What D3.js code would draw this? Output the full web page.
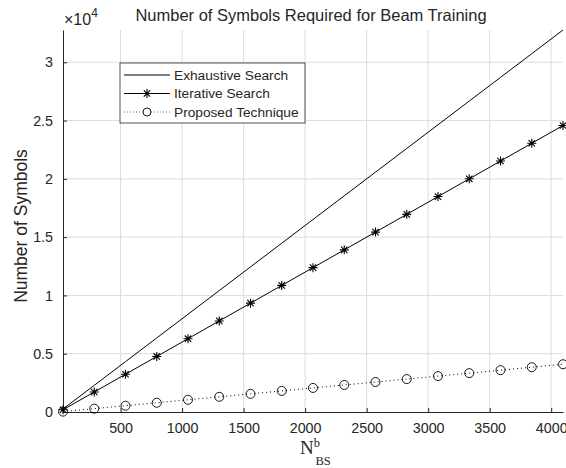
<!DOCTYPE html>
<html>
<head>
<meta charset="utf-8">
<script src="https://cdn.jsdelivr.net/npm/d3@7"></script>
<style>
  body { margin: 0; background: #fff; }
  svg text { font-family: "Liberation Sans", Arial, sans-serif; fill: #262626; }
</style>
</head>
<body>
<div id="chartHolder"></div>
<script>
// N_BS^b values (markers)
const nBS = [32, 286, 540, 794, 1048, 1302, 1556, 1810, 2064, 2318, 2572, 2826, 3080, 3334, 3588, 3842, 4096];
const exhaustive = [256, 2288, 4320, 6352, 8384, 10416, 12448, 14480, 16512, 18544, 20576, 22608, 24640, 26672, 28704, 30736, 32768];
const iterative = [192, 1716, 3240, 4764, 6288, 7812, 9336, 10860, 12384, 13908, 15432, 16956, 18480, 20004, 21528, 23052, 24576];
const proposed = [32, 286, 540, 794, 1048, 1302, 1556, 1810, 2064, 2318, 2572, 2826, 3080, 3334, 3588, 3842, 4096];
const xTicks = [500, 1000, 1500, 2000, 2500, 3000, 3500, 4000];
const yTicks = [0, 5000, 10000, 15000, 20000, 25000, 30000];
const legendLabels = ["Exhaustive Search", "Iterative Search", "Proposed Technique"];

const w = 566;
const h = 468;
const m = {left: 63, right: 3, top: 30, bottom: 56};

const x = d3.scaleLinear()
            .domain([32, 4096])
            .range([m.left, w - m.right]);
const y = d3.scaleLinear()
            .domain([0, 32768])
            .range([h - m.bottom, m.top]);

const svg = d3.select("#chartHolder")
              .append("svg")
              .attr("width", w)
              .attr("height", h);

// grid
svg.append("g")
   .selectAll("line")
   .data(xTicks)
   .enter()
   .append("line")
   .attr("x1", (d) => x(d)).attr("x2", (d) => x(d))
   .attr("y1", y(0)).attr("y2", m.top)
   .attr("stroke", "#dcdcdc").attr("stroke-width", 1);
svg.append("g")
   .selectAll("line")
   .data(yTicks.slice(1))
   .enter()
   .append("line")
   .attr("x1", m.left).attr("x2", w - m.right)
   .attr("y1", (d) => y(d)).attr("y2", (d) => y(d))
   .attr("stroke", "#dcdcdc").attr("stroke-width", 1);

// axes (ticks point inward like matlab)
const xAxis = d3.axisBottom(x).tickValues(xTicks).tickSize(-4).tickSizeOuter(0).tickPadding(11)
                .tickFormat(d3.format("d"));
const gx = svg.append("g")
   .attr("transform", "translate(0," + (h - m.bottom) + ")")
   .call(xAxis);
const yAxis = d3.axisLeft(y).tickValues(yTicks).tickSize(-4).tickSizeOuter(0).tickPadding(10)
                .tickFormat((d) => d / 10000);
const gy = svg.append("g")
   .attr("transform", "translate(" + m.left + ",0)")
   .call(yAxis);
[gx, gy].forEach((g) => {
  g.select(".domain").attr("stroke", "#262626");
  g.selectAll(".tick line").attr("stroke", "#262626");
  g.selectAll(".tick text").attr("font-size", 14.3).attr("fill", "#262626")
   .style("font-family", "'Liberation Sans', Arial, sans-serif");
});

// lines
const lineOf = (vals) => d3.line().x((d, i) => x(nBS[i])).y((d) => y(d))(vals);

svg.append("path").attr("d", lineOf(exhaustive))
   .attr("fill", "none").attr("stroke", "#000").attr("stroke-width", 1);
svg.append("path").attr("d", lineOf(iterative))
   .attr("fill", "none").attr("stroke", "#000").attr("stroke-width", 1);
svg.append("path").attr("d", lineOf(proposed))
   .attr("fill", "none").attr("stroke", "#000").attr("stroke-width", 1)
   .attr("stroke-dasharray", "1,3");

function drawStar(g, cx, cy) {
  g.append("path")
   .attr("d", "M-4.5,0H4.5M0,-4.5V4.5M-3.2,-3.2L3.2,3.2M-3.2,3.2L3.2,-3.2")
   .attr("transform", "translate(" + cx + "," + cy + ")")
   .attr("stroke", "#000").attr("stroke-width", 1.1).attr("fill", "none");
}
const marks = svg.append("g");
iterative.forEach((d, i) => drawStar(marks, x(nBS[i]), y(d)));

marks.selectAll("circle")
   .data(proposed)
   .enter()
   .append("circle")
   .attr("cx", (d, i) => x(nBS[i]))
   .attr("cy", (d) => y(d))
   .attr("r", 4.5)
   .attr("fill", "none")
   .attr("stroke", "#000")
   .attr("stroke-width", 0.9);

// title
svg.append("text")
   .attr("x", 311).attr("y", 21)
   .attr("text-anchor", "middle")
   .attr("font-size", 16.5)
   .text("Number of Symbols Required for Beam Training");

// x10^4
const exp = svg.append("text").attr("x", 64).attr("y", 25).attr("font-size", 16);
exp.append("tspan").text("\u00d710");
exp.append("tspan").attr("dy", -8).attr("font-size", 12).text("4");

// y label
svg.append("text")
   .attr("text-anchor", "middle")
   .attr("transform", "translate(27,226)rotate(-90)")
   .attr("font-size", 17.5)
   .text("Number of Symbols");

// x label N_BS^b
const xl = svg.append("text")
   .attr("x", 300).attr("y", 454)
   .attr("font-size", 19)
   .style("font-family", "'Liberation Serif', 'Times New Roman', serif");
xl.append("tspan").text("N");
xl.append("tspan").attr("dy", -7).attr("font-size", 12.5).text("b");
xl.append("tspan").attr("x", 315.5).attr("dy", 18).attr("font-size", 12.5).text("BS");

// legend
const lg = svg.append("g").attr("transform", "translate(120,63)");
lg.append("rect").attr("width", 185).attr("height", 60)
  .attr("fill", "#fff").attr("stroke", "#262626").attr("stroke-width", 0.8);
const rows = lg.selectAll(".legend")
  .data(legendLabels)
  .enter()
  .append("g")
  .attr("class", "legend")
  .attr("transform", (d, i) => "translate(0," + (12 + i * 18.5) + ")");
rows.append("line")
  .attr("x1", 4).attr("x2", 50).attr("y1", 0).attr("y2", 0)
  .attr("stroke", (d, i) => i == 2 ? "#777" : "#000")
  .attr("stroke-width", 1)
  .attr("stroke-dasharray", (d, i) => i == 2 ? "1,2" : null);
rows.append("text")
  .attr("x", 54).attr("y", 0).attr("dy", ".35em")
  .attr("font-size", 13.7)
  .text((d) => d);
drawStar(lg, 27, 12 + 18.5);
lg.append("circle").attr("cx", 27).attr("cy", 12 + 37).attr("r", 4)
  .attr("fill", "#fff").attr("stroke", "#000").attr("stroke-width", 0.9);
</script>
</body>
</html>
